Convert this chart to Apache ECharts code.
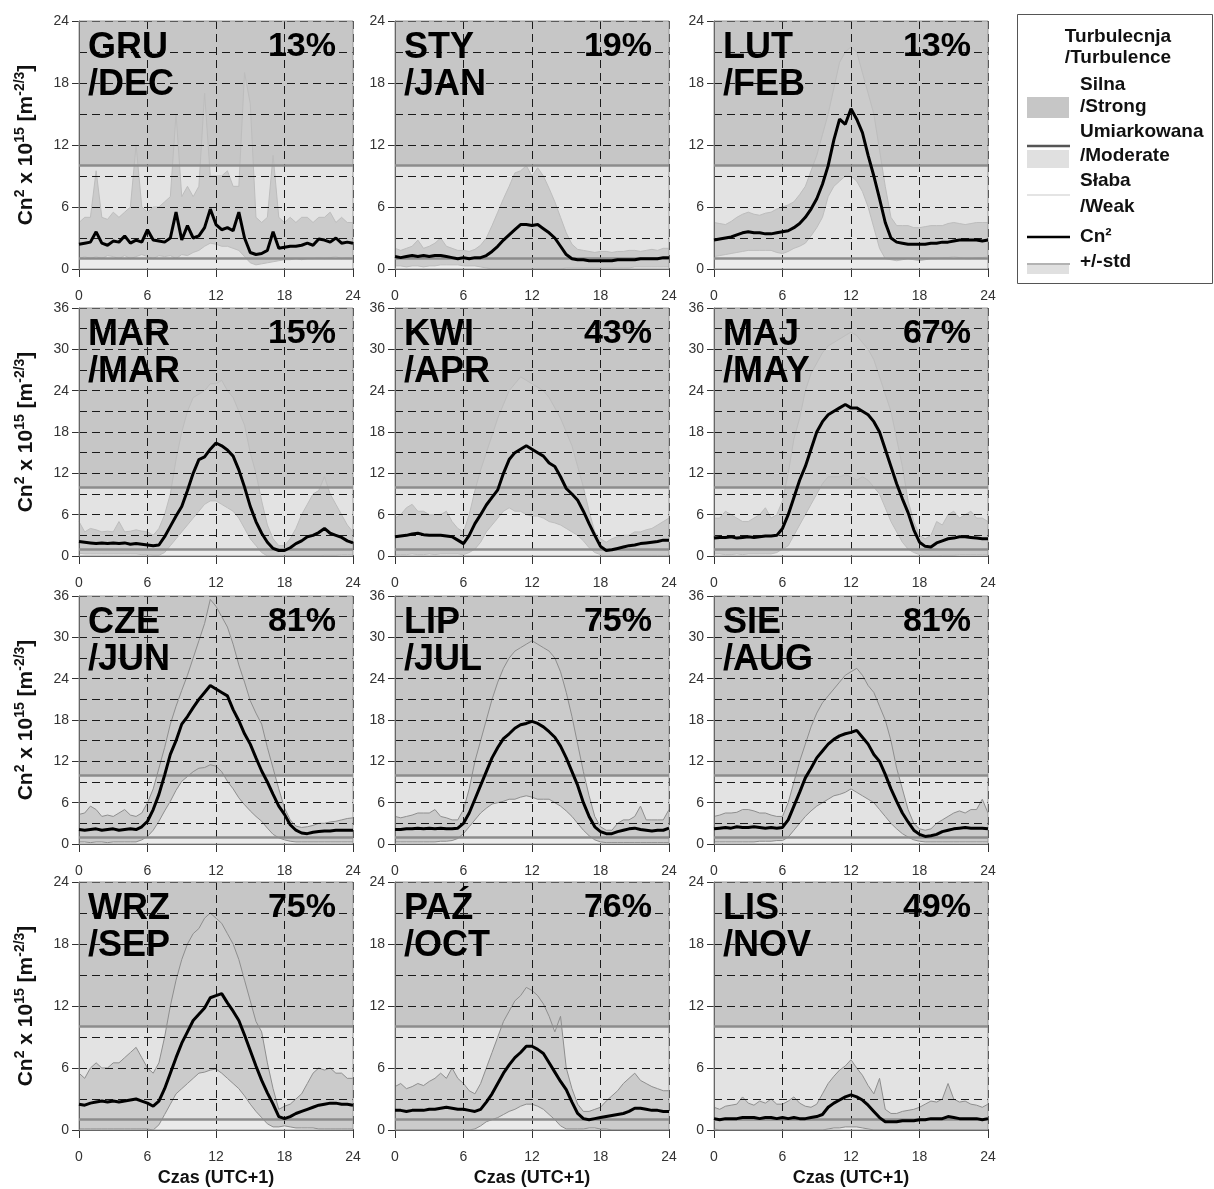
<!DOCTYPE html>
<html lang="pl">
<head>
<meta charset="UTF-8">
<title>Cn2 - przebieg dobowy</title>
<script src="https://cdn.jsdelivr.net/npm/echarts@6/dist/echarts.min.js"></script>
<style>html,body{margin:0;padding:0;background:#fff}</style>
</head>
<body>
<div id="main" style="width:1214px;height:1189px"></div>
<script type="text/javascript">
var FONT = 'Liberation Sans, Arial, sans-serif';

// czas co pol godziny
var HOURS = [];
for (var h = 0; h <= 24; h += 0.5) HOURS.push(h);

var MONTH_PL = ['GRU', 'STY', 'LUT', 'MAR', 'KWI', 'MAJ', 'CZE', 'LIP', 'SIE', 'WRZ', 'PAŹ', 'LIS'];
var MONTH_EN = ['/DEC', '/JAN', '/FEB', '/MAR', '/APR', '/MAY', '/JUN', '/JUL', '/AUG', '/SEP', '/OCT', '/NOV'];
var STRONG_PCT = [13, 19, 13, 15, 43, 67, 81, 75, 81, 75, 76, 49];
var Y_MAX = [24, 24, 24, 36, 36, 36, 36, 36, 36, 24, 24, 24];

var decMean = [2.4,2.5,2.6,3.6,2.5,2.3,2.7,2.6,3.2,2.5, 2.8,2.6,3.8,2.8,2.7,2.6,3.0,5.5,2.8,4.2, 3.0,3.2,4.0,5.8,4.3,3.8,4.0,3.7,5.5,3.0, 1.6,1.4,1.5,1.8,3.6,2.0,2.1,2.2,2.2,2.3, 2.5,2.3,2.9,2.8,2.6,3.0,2.5,2.6,2.5];
var decUpper = [4.5,5,5,9.5,5,4.8,5.5,5,5.5,6, 12,6,5.5,6,6,6.5,7,15,7,8, 7,8,17,9,9,9,9.5,8,8,19, 16,5,4.5,5,11,5,4.5,5,4.5,5, 5,4.5,5,5,5.5,4.5,5,4.5,4.5];
var decLower = [1.0,1.2,1.0,1.2,1.0,1.3,1.2,1.0,1.3,1.0, 1.2,1.4,1.2,1.0,1.3,1.2,1.3,1.0,1.4,1.3, 1.6,1.8,2.2,2.5,2.4,2.2,2.2,2.0,1.8,1.2, 0.6,0.4,0.5,0.6,0.7,0.8,0.9,0.9,1.0,0.9, 1.0,1.0,1.1,1.0,1.1,1.2,1.0,1.1,1.0];

var janMean = [1.2,1.1,1.2,1.3,1.2,1.3,1.2,1.3,1.3,1.2, 1.1,1.0,1.1,1.0,1.1,1.1,1.3,1.7,2.2,2.8, 3.3,3.8,4.3,4.3,4.2,4.3,3.9,3.5,3.0,2.2, 1.4,1.0,0.9,0.9,0.8,0.8,0.8,0.8,0.8,0.9, 0.9,0.9,0.9,1.0,1.0,1.0,1.0,1.1,1.1];
var janUpper = [2.0,1.8,2.0,2.2,2.8,2.0,2.2,2.5,3.0,2.2, 2.0,1.8,1.8,1.7,1.9,2.3,3.0,4.2,5.5,6.8, 8.0,9.3,9.5,10.0,9.0,9.8,9.0,7.8,6.5,5.0, 3.5,2.4,1.9,1.8,1.7,1.6,1.7,1.7,1.6,1.7, 1.7,1.8,1.8,1.7,1.8,1.9,1.8,2.0,2.0];
var janLower = [0.3,0.3,0.2,0.3,0.3,0.2,0.3,0.3,0.4,0.4, 0.4,0.4,0.3,0.3,0.3,0.2,0.1,0,0,0, 0,0,0,0,0,0,0,0,0,0, 0.1,0.1,0.1,0.1,0.1,0.1,0.1,0.1,0.1,0.1, 0.1,0.1,0.2,0.2,0.2,0.2,0.2,0.2,0.2];

var febMean = [2.8,2.9,3.0,3.1,3.3,3.5,3.6,3.5,3.5,3.4, 3.4,3.5,3.6,3.7,4.0,4.4,5.0,5.8,6.8,8.2, 10.0,12.5,14.5,14.0,15.5,14.5,13.2,11.0,9.0,6.8, 4.5,3.0,2.6,2.5,2.4,2.4,2.4,2.4,2.5,2.5, 2.6,2.6,2.7,2.8,2.8,2.8,2.8,2.7,2.8];
var febUpper = [4.5,4.4,4.3,4.6,5.0,5.3,5.5,5.3,5.2,5.4, 5.5,5.8,6.0,6.2,6.5,7.2,8.0,9.5,11,13, 15,17.5,20,21,21.5,21,19,17,15,11.5, 8,5,4.2,4.2,4.2,4.0,4.0,4.1,4.2,4.2, 4.2,4.4,4.5,4.4,4.3,4.4,4.5,4.5,4.5];
var febLower = [1.2,1.3,1.4,1.5,1.6,1.7,1.8,1.8,1.8,1.8, 1.8,1.6,1.5,1.7,2.0,2.2,2.5,3.2,4.0,5.0, 7.0,8.0,8.5,9.0,9.0,8.5,7.5,6.0,4.0,2.0, 1.0,0.9,0.8,0.9,1.0,0.9,0.8,0.9,1.0,1.0, 1.1,1.1,1.2,1.1,1.0,1.0,1.1,1.1,1.2];

var marMean = [2.1,2.0,1.9,1.8,1.9,1.8,1.9,1.8,1.9,1.7, 1.8,1.7,1.6,1.5,1.6,2.8,4.3,5.8,7.2,9.5, 12,14,14.4,15.5,16.4,16,15.4,14.5,12.5,10, 7.2,5,3.3,2,1.1,0.8,0.8,1.2,1.8,2.2, 2.8,3,3.4,4,3.3,3,2.7,2.2,1.9];
var marUpper = [5,3.5,4,3.8,3.5,3.6,3.5,5,3.5,3.6, 3.8,3.6,3.5,3,4,6,9,14,18,21, 23,23.5,24,25,25,25.5,24,23,21,19, 15,12,8,4.5,2.5,1.5,1.5,2.5,4,6, 7.5,9,9.5,11.5,9,7.5,6,4.5,3.5];
var marLower = [0.4,0.3,0.3,0.3,0.3,0.3,0.3,0.3,0.3,0.3, 0.3,0.2,0.2,0.1,0.1,0.5,1.5,2.5,3.5,4.5, 5.5,6.5,7.5,8,8,7.5,7,6.5,5.5,4, 2.5,1.5,0.5,0,0,0,0,0,0,0, 0,0,0,0.1,0.1,0.1,0.2,0.2,0.2];

var aprMean = [2.8,2.9,3.0,3.2,3.3,3.1,3.0,3.0,3.0,2.9, 2.8,2.3,1.8,3.0,4.7,6.0,7.4,8.5,9.6,12, 14,15,15.5,16,15.5,15,14.5,13.5,13,11.5, 9.8,9,8.1,6.5,4.7,3,1.4,0.8,0.9,1.1, 1.3,1.5,1.6,1.8,1.9,2.0,2.1,2.3,2.3];
var aprUpper = [5.5,6,7,7.5,6.5,6.5,6,6,6,6.5, 5,4,3.5,6,9.5,12.5,15,17.5,20,22, 24,25,26,25.5,25,24.5,24,23,21.5,20, 18,16,13,10,6.5,3.5,2.5,2,2.5,2.8, 3,3,3.5,3.5,3.8,4,4.5,5,5.5];
var aprLower = [0.2,0.2,0.2,0.3,0.2,0.2,0.3,0.2,0.3,0.3, 0.3,0.3,0.2,0.5,1,2,3.5,4.5,5.5,6.5, 7,6.5,6.5,6,5.8,5.8,5.5,5,4.8,4.5, 4,3.5,3,2.2,1.2,0.5,0.2,0,0.1,0.1, 0.1,0.1,0.1,0.1,0.1,0.1,0.1,0.1,0.1];

var mayMean = [2.6,2.7,2.7,2.8,2.6,2.7,2.8,2.7,2.8,2.9, 2.9,3.0,4.0,6.0,8.5,11,13,15.5,18,19.5, 20.5,21,21.5,22,21.5,21.5,21,20.5,19.5,18, 15.5,13,10.5,8.3,6.3,3.8,2.0,1.4,1.3,1.9, 2.2,2.5,2.6,2.8,2.8,2.7,2.6,2.5,2.5];
var mayUpper = [5.5,5.5,6.5,6,5.5,5,5,5.5,6,7, 5.5,6,8,12,17,20,24,26.5,28,29.5, 30.5,31,31.5,32,32.5,32,31,30,28.5,26, 23.5,21,17,13,8,5,3,2.5,3,5, 4.5,6,6.5,5.5,6,6.5,5.5,5.5,5];
var mayLower = [0.3,0.3,0.2,0.2,0.3,0.2,0.3,0.3,0.3,0.3, 0.3,0.5,1,1.5,3,4.5,6,7.5,9,10.5, 11.5,11.5,11.5,11.8,11.5,11,11.5,11,10,9, 7,5,3.5,2,1,0.5,0.2,0,0,0, 0.1,0.1,0.1,0.2,0.2,0.2,0.2,0.2,0.2];

var junMean = [2.1,2.0,2.1,2.2,2.0,2.1,2.2,2.0,2.1,2.2, 2.1,2.5,3.3,5,7.2,10,13,15,17.4,18.5, 19.8,21,22,23,22.5,22,21.5,19.5,17.9,16, 14.5,12.5,10.6,9,7.2,5.5,4.3,2.8,2.0,1.6, 1.5,1.7,1.8,1.9,1.9,2.0,2.0,2.0,2.0];
var junUpper = [4.3,4.5,5.5,5,4,4.2,4,4.5,5,4.2, 4,4.5,6,8,11,14,17.4,20,22.3,24.5, 27,29.5,32,35.5,34.5,33,31.5,29,26,23.5, 20.8,19,17.4,14,11,8,5.2,3.5,2.6,2.4, 2.5,2.7,3,3,3.2,3.3,3.5,3.7,3.8];
var junLower = [0.3,0.3,0.2,0.3,0.3,0.2,0.3,0.3,0.3,0.3, 0.3,0.6,1.1,2,3.3,4.8,6.2,7.8,9.1,9.8, 10.5,11,11.1,11.5,11.3,10.5,9.1,8,6.7,5.7, 4.8,4,3.3,2.3,1.4,0.9,0.6,0.4,0.3,0.3, 0.3,0.3,0.3,0.3,0.3,0.3,0.3,0.3,0.3];

var julMean = [2.1,2.1,2.2,2.2,2.3,2.2,2.3,2.2,2.3,2.2, 2.2,2.3,3,4.5,6.5,8.5,10.5,12.5,14,15.3, 16,16.8,17.3,17.5,17.8,17.5,17,16.3,15.5,14.2, 12.5,10.5,8.5,6,4,2.5,1.8,1.5,1.5,1.8, 2,2.2,2.3,2.1,2,1.9,2,2,2.3];
var julUpper = [4,3.8,4,4.2,4.5,4.5,4.5,5,4,3.8, 3.5,3.5,5,8,12,15,18,21,23.5,25.5, 27,28,28.5,29,29.5,29,28.5,28,27,25, 22,18.5,14.5,10.5,7,4,2.5,2,2,3, 3.5,3.5,4,5.5,3.5,3.5,3.5,3.5,5];
var julLower = [0.3,0.3,0.3,0.3,0.3,0.3,0.3,0.3,0.4,0.4, 0.5,0.8,1.5,2.5,3.5,4.5,5.2,5.8,6,6.2, 6.5,6.5,6.8,7,6.8,6.5,6.5,6.5,6,5.5, 4.8,4,3,2,1.2,0.6,0.3,0.2,0.2,0.2, 0.2,0.2,0.2,0.2,0.2,0.2,0.2,0.2,0.2];

var augMean = [2.2,2.3,2.4,2.3,2.5,2.4,2.4,2.5,2.4,2.3, 2.4,2.3,2.4,3.5,5.5,7.5,9.6,11,12.5,13.5, 14.5,15.2,15.7,16,16.2,16.5,15.5,14.5,13,12, 10.1,8,6.2,4.5,3.2,2,1.4,1.1,1.2,1.4, 1.8,2,2.2,2.3,2.4,2.3,2.3,2.3,2.2];
var augUpper = [4,4.2,4.5,4.5,4.6,5,5,4.8,4.5,4.5, 4.2,4,4,6,9,12,14.5,17,19,20.5, 21.5,22.5,23.5,24.5,25,25.5,24.5,23,22,20, 18,15,11,8,5,3,2.2,2,2.2,3, 3.5,4,4.5,4.8,4.5,5,5,6.5,4.5];
var augLower = [0.3,0.3,0.3,0.3,0.3,0.3,0.3,0.3,0.4,0.4, 0.4,0.5,0.5,1,2,3,4,4.8,5.5,6, 6.5,7,7.2,7.5,8,7.5,7,6.5,6,5, 4,3,2.2,1.5,1,0.6,0.4,0.3,0.3,0.3, 0.3,0.3,0.3,0.3,0.3,0.3,0.3,0.3,0.3];

var sepMean = [2.5,2.4,2.6,2.7,2.8,2.7,2.8,2.7,2.8,2.9, 3,2.8,2.6,2.3,2.8,4,5.5,7,8.4,9.5, 10.6,11.2,11.8,12.8,13,13.2,12.3,11.5,10.6,9.2, 7.7,6.2,4.8,3.6,2.5,1.3,1.1,1.3,1.6,1.8, 2,2.2,2.4,2.5,2.6,2.6,2.5,2.5,2.4];
var sepUpper = [5.5,5,6,6.5,6,6,6.5,6.5,7,7.5, 8,7,6,5.5,6.5,9,12,14.5,16.5,18, 19,19.5,20.5,21,20.5,20,19,18,16.5,14.5, 12.5,10.5,9.5,6.5,4,2,2.3,2.5,3,3.5, 4.5,5.5,6,5.8,6,5.5,5.5,5,5];
var sepLower = [0.1,0.1,0.1,0.1,0.1,0.1,0.1,0.1,0.1,0.1, 0.1,0.1,0.1,0,0.5,1.5,2.5,3.5,4,4.5, 5,5.5,5.6,5.8,5.9,5.5,5,4.5,4,3.3, 2.5,1.8,1.2,0.6,0.3,0.3,0.4,0.3,0.2,0.2, 0.2,0.2,0.1,0.1,0.1,0.1,0.1,0.1,0.1];

var octMean = [1.9,1.9,1.8,1.9,1.9,1.9,2,2,2.1,2.2, 2.1,2,2,1.9,1.8,2,2.7,3.5,4.5,5.5, 6.3,7,7.5,8.1,8.1,7.8,7.4,6.5,5.6,4.7, 3.9,2.7,1.6,1.1,1,1.1,1.2,1.3,1.4,1.5, 1.6,1.8,2.1,2.1,2,1.9,1.9,1.8,1.8];
var octUpper = [4.2,4.5,4,4.2,4.5,4.3,4.7,5,5.5,5, 6,5,4.5,3.8,3.5,4.5,6,7.5,9,10.5, 11.5,12.5,13,13.8,13.5,13,12.2,11,9.5,11, 6,4,2.5,1.8,1.8,2,2.2,2.8,3.3,3.8, 4.5,5,5.5,4.8,4.5,4.2,4,3.8,3.8];
var octLower = [0,0,0,0,0,0,0,0,0,0, 0,0,0,0,0.1,0.4,0.8,1,1.2,1.5, 1.8,2,2.3,2.5,2.5,2.3,2,1.5,1,0.4, 0.1,0.1,0.1,0.1,0.2,0.2,0.1,0.1,0,0, 0,0,0,0,0,0,0,0,0];

var novMean = [1.1,1,1.1,1.1,1.1,1.2,1.2,1.2,1.1,1.2, 1.2,1.1,1.2,1.1,1.2,1.1,1.1,1.2,1.3,1.5, 2.2,2.6,2.9,3.2,3.4,3.2,2.9,2.4,1.8,1.2, 0.8,0.8,0.8,0.9,0.9,0.9,1,1,1.1,1.1, 1.1,1.3,1.2,1.1,1.1,1.1,1.1,1,1.1];
var novUpper = [2.2,2,2.3,2.4,2.5,3.2,2.6,2.4,2.8,2.6, 3,2.5,2.5,2.8,3.2,2.6,2.3,2.2,2.5,3.5, 4.5,5.2,5.8,6.2,6.8,6,5.3,4.3,3.5,5, 2,1.6,1.6,1.8,1.9,2,2.2,2.5,2.8,2.7, 3,4.5,3,2.7,2.8,2.5,2.4,2.2,2.5];
var novLower = [0.1,0,0,0,0,0,0,0,0,0, 0,0,0,0,0,0,0,0,0,0, 0.1,0.2,0.2,0.3,0.3,0.3,0.2,0.1,0,0, 0,0,0,0,0,0,0,0,0,0, 0,0,0,0,0,0,0,0,0];

var MEAN = [decMean, janMean, febMean, marMean, aprMean, mayMean, junMean, julMean, augMean, sepMean, octMean, novMean];
var UPPER = [decUpper, janUpper, febUpper, marUpper, aprUpper, mayUpper, junUpper, julUpper, augUpper, sepUpper, octUpper, novUpper];
var LOWER = [decLower, janLower, febLower, marLower, aprLower, mayLower, junLower, julLower, augLower, sepLower, octLower, novLower];

// uklad paneli
var COL_LEFT = [79, 395, 714];
var ROW_TOP = [21, 308, 596, 882];
var PANEL_W = 274, PANEL_H = 248;

var C_STRONG = '#c6c6c6', C_MOD = '#e3e3e3', C_WEAK = '#ebebeb';
var C_BAND = '#cbcbcb', C_LIMIT = '#8c8c8c';

function pairs(arr) {
    return arr.map(function (v, i) { return [HOURS[i], v]; });
}

var dash = {color: '#1a1a1a', width: 1, type: [8, 5]};
var grids = [], xAxes = [], yAxes = [], series = [], graphics = [];

MEAN.forEach(function (mean, p) {
    var r = Math.floor(p / 3), c = p % 3;
    var left = COL_LEFT[c], top = ROW_TOP[r];
    var edge = r < 2 ? '#bdbdbd' : '#8e8e8e';

    grids.push({left: left, top: top, width: PANEL_W, height: PANEL_H,
        show: true, z: 4, backgroundColor: 'transparent', borderColor: '#9a9a9a', borderWidth: 1});

    xAxes.push({
        gridIndex: p, type: 'value', min: 0, max: 24, interval: 6, z: 3,
        axisLine: {show: true, onZero: false, lineStyle: {color: '#333', width: 1}},
        axisTick: {show: true, length: 8, lineStyle: {color: '#333'}},
        axisLabel: {margin: 20, fontSize: 14, color: '#333', fontFamily: FONT},
        splitLine: {show: true, lineStyle: dash}
    });
    yAxes.push({
        gridIndex: p, type: 'value', min: 0, max: Y_MAX[p], interval: 6, z: 3,
        axisLine: {show: true, lineStyle: {color: '#333', width: 1}},
        axisTick: {show: true, length: 7, lineStyle: {color: '#333'}},
        axisLabel: {margin: 10, fontSize: 14, color: '#333', fontFamily: FONT},
        splitLine: {show: true, lineStyle: dash},
        minorTick: {show: false, splitNumber: 2},
        minorSplitLine: {show: true, lineStyle: dash}
    });

    // tlo: silna / umiarkowana / slaba
    series.push({
        type: 'line', xAxisIndex: p, yAxisIndex: p, data: [], z: 1, silent: true,
        markArea: {silent: true, data: [
            [{yAxis: 10, itemStyle: {color: C_STRONG}}, {yAxis: Y_MAX[p]}],
            [{yAxis: 1, itemStyle: {color: C_MOD}}, {yAxis: 10}],
            [{yAxis: 0, itemStyle: {color: C_WEAK}}, {yAxis: 1}]
        ]}
    });
    // +/- std
    series.push({
        type: 'custom', xAxisIndex: p, yAxisIndex: p, z: 2, silent: true,
        data: [[0, 0]],
        renderItem: function (params, api) {
            var pts = [], up = UPPER[p], lo = LOWER[p];
            for (var i = 0; i < HOURS.length; i++) pts.push(api.coord([HOURS[i], up[i]]));
            for (var j = HOURS.length - 1; j >= 0; j--) pts.push(api.coord([HOURS[j], lo[j]]));
            return {type: 'polygon', shape: {points: pts}, style: {fill: C_BAND}};
        }
    });
    series.push({type: 'line', xAxisIndex: p, yAxisIndex: p, data: pairs(UPPER[p]), z: 2,
        symbol: 'none', silent: true, lineStyle: {color: edge, width: 1}});
    series.push({type: 'line', xAxisIndex: p, yAxisIndex: p, data: pairs(LOWER[p]), z: 2,
        symbol: 'none', silent: true, lineStyle: {color: edge, width: 1}});
    // progi 1 i 10
    series.push({
        type: 'line', xAxisIndex: p, yAxisIndex: p, data: [], z: 4, silent: true,
        markLine: {silent: true, symbol: 'none', label: {show: false},
            lineStyle: {color: C_LIMIT, width: 2.5, type: 'solid'},
            data: [{yAxis: 10}, {yAxis: 1}]}
    });
    // Cn2
    series.push({type: 'line', xAxisIndex: p, yAxisIndex: p, data: pairs(mean), z: 5,
        symbol: 'none', silent: true, lineStyle: {color: '#000', width: 3}});

    graphics.push({type: 'text', x: left + 9, y: top + 9, z: 20, silent: true,
        style: {text: MONTH_PL[p] + '\n' + MONTH_EN[p], fontSize: 36, fontWeight: 'bold',
            fontFamily: FONT, lineHeight: 37, fill: '#000'}});
    graphics.push({type: 'text', x: left + PANEL_W - 17, y: top + 9, z: 20, silent: true,
        style: {text: STRONG_PCT[p] + '%', fontSize: 34, fontWeight: 'bold', fontFamily: FONT,
            align: 'right', fill: '#000'}});
});

// opis osi Y i X
var axisRich = {
    b: {fontSize: 21, fontWeight: 'bold', fontFamily: FONT, fill: '#111', lineHeight: 26},
    s: {fontSize: 14, fontWeight: 'bold', fontFamily: FONT, fill: '#111', verticalAlign: 'top', lineHeight: 26}
};
ROW_TOP.forEach(function (top) {
    graphics.push({type: 'text', x: 26, y: top + PANEL_H / 2, rotation: Math.PI / 2, silent: true,
        style: {text: '{b|Cn}{s|2}{b| x 10}{s|15}{b| [m}{s|-2/3}{b|]}', rich: axisRich,
            align: 'center', verticalAlign: 'middle'}});
});
COL_LEFT.forEach(function (left) {
    graphics.push({type: 'text', x: left + PANEL_W / 2, y: 1178, silent: true,
        style: {text: 'Czas (UTC+1)', fontSize: 18, fontWeight: 'bold', fontFamily: FONT,
            fill: '#111', align: 'center', verticalAlign: 'middle'}});
});

// legenda
var lx = 1027, tx = 1080;
function legText(str, y, align, x) {
    return {type: 'text', x: x || tx, y: y, silent: true,
        style: {text: str, fontSize: 19, fontWeight: 'bold', fontFamily: FONT, fill: '#111',
            align: align || 'left', verticalAlign: 'middle'}};
}
graphics.push({type: 'rect', shape: {x: 1017.5, y: 14.5, width: 195, height: 269}, silent: true,
    style: {fill: '#fff', stroke: '#555', lineWidth: 1}});
graphics.push(legText('Turbulecnja', 37, 'center', 1118));
graphics.push(legText('/Turbulence', 58, 'center', 1118));
graphics.push({type: 'rect', shape: {x: lx, y: 97, width: 42, height: 21}, style: {fill: C_STRONG}});
graphics.push(legText('Silna', 85));
graphics.push(legText('/Strong', 107));
graphics.push({type: 'line', shape: {x1: lx, y1: 146, x2: lx + 43, y2: 146}, style: {stroke: '#555', lineWidth: 2.5}});
graphics.push({type: 'rect', shape: {x: lx, y: 150, width: 42, height: 18}, style: {fill: '#e0e0e0'}});
graphics.push(legText('Umiarkowana', 132));
graphics.push(legText('/Moderate', 156));
graphics.push({type: 'line', shape: {x1: lx, y1: 195, x2: lx + 43, y2: 195}, style: {stroke: '#e4e4e4', lineWidth: 2}});
graphics.push(legText('Słaba', 181));
graphics.push(legText('/Weak', 207));
graphics.push({type: 'line', shape: {x1: lx, y1: 237, x2: lx + 43, y2: 237}, style: {stroke: '#000', lineWidth: 2.5}});
graphics.push(legText('Cn²', 237));
graphics.push({type: 'line', shape: {x1: lx, y1: 264, x2: lx + 43, y2: 264}, style: {stroke: '#9a9a9a', lineWidth: 1.5}});
graphics.push({type: 'rect', shape: {x: lx, y: 265, width: 42, height: 9}, style: {fill: '#e0e0e0'}});
graphics.push(legText('+/-std', 262));

var myChart = echarts.init(document.getElementById('main'));
myChart.setOption({
    animation: false,
    textStyle: {fontFamily: FONT},
    grid: grids,
    xAxis: xAxes,
    yAxis: yAxes,
    series: series,
    graphic: graphics
});
</script>
</body>
</html>
